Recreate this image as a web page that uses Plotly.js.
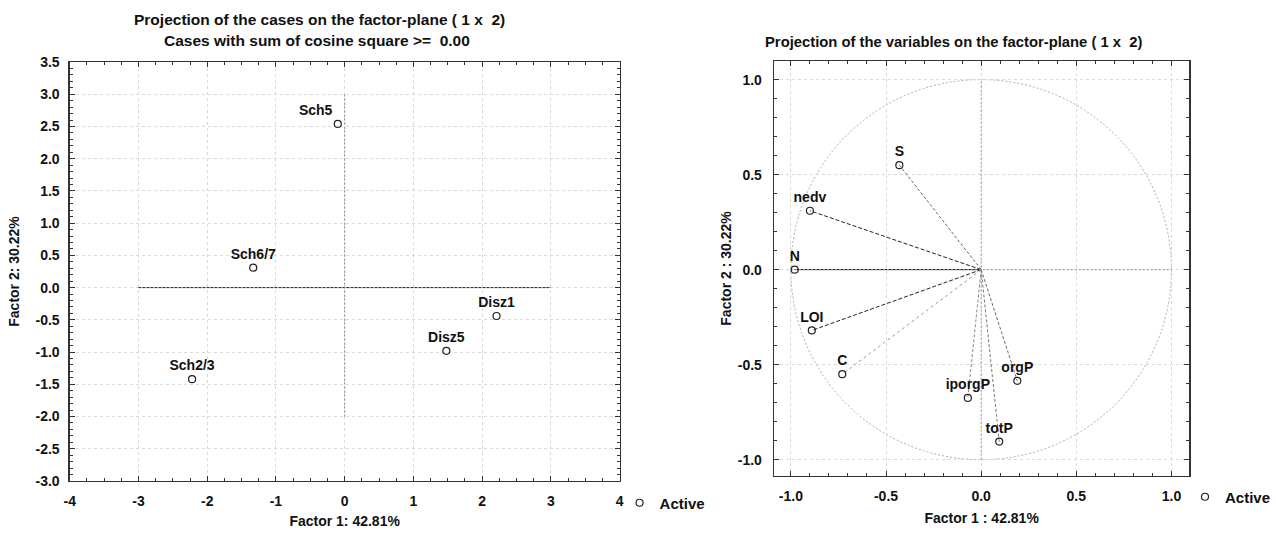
<!DOCTYPE html>
<html>
<head>
<meta charset="utf-8">
<script src="https://cdn.plot.ly/plotly-3.0.1.min.js"></script>
<style>
  html, body { margin: 0; padding: 0; background: #ffffff; }
  #chart { width: 1276px; height: 533px; }
</style>
</head>
<body>
<div id="chart"></div>
<script>
// Cases projected on factor plane (Factor 1 x Factor 2)
const caseNames = ['Sch5', 'Sch6/7', 'Sch2/3', 'Disz1', 'Disz5'];
const caseF1 = [-0.10, -1.33, -2.22, 2.21, 1.48];
const caseF2 = [2.54, 0.31, -1.42, -0.44, -0.98];
const caseLabelPos = ['top left', 'top center', 'top center', 'top center', 'top center'];

// Variables projected on factor plane (loadings)
const varNames = ['S', 'nedv', 'N', 'LOI', 'C', 'iporgP', 'orgP', 'totP'];
const varF1 = [-0.43, -0.90, -0.98, -0.89, -0.73, -0.07, 0.19, 0.095];
const varF2 = [0.55, 0.31, 0.0, -0.32, -0.55, -0.675, -0.585, -0.905];
const varLineColor = ['#666', '#222', '#111', '#222', '#999', '#888', '#666', '#777'];
const varLineDash = ['3px,2px', '4px,2px', 'solid', '4px,2px', '3px,3px', '3px,2px', '3px,2px', '3px,2px'];

// Reference cross on the cases plot
const crossH = [-3, 3];
const crossV = [-2, 3];

// Tick labels
const caseXTicks = [-4, -3, -2, -1, 0, 1, 2, 3, 4];
const caseXText = ['-4', '-3', '-2', '-1', '0', '1', '2', '3', '4'];
const caseYTicks = [3.5, 3, 2.5, 2, 1.5, 1, 0.5, 0, -0.5, -1, -1.5, -2, -2.5, -3];
const caseYText = ['3.5', '3.0', '2.5', '2.0', '1.5', '1.0', '0.5', '0.0', '-0.5', '-1.0', '-1.5', '-2.0', '-2.5', '-3.0'];
const varTicks = [-1, -0.5, 0, 0.5, 1];
const varText = ['-1.0', '-0.5', '0.0', '0.5', '1.0'];

const W = 1276, H = 533;
const px = v => v / W;
const py = v => 1 - v / H;

const FONT = 'Arial, "Liberation Sans", sans-serif';
const boldFont = (size) => ({ family: FONT, size: size, color: '#111', weight: 'bold' });

const traces = [];

// Cases plot
traces.push({
  x: crossH, y: [0, 0], xaxis: 'x', yaxis: 'y', mode: 'lines',
  line: { color: '#222', width: 1, dash: '3px,1px' }, hoverinfo: 'skip', showlegend: false
});
traces.push({
  x: [0, 0], y: crossV, xaxis: 'x', yaxis: 'y', mode: 'lines',
  line: { color: '#888', width: 1, dash: '2px,2px' }, hoverinfo: 'skip', showlegend: false
});
traces.push({
  x: caseF1, y: caseF2, text: caseNames, xaxis: 'x', yaxis: 'y',
  mode: 'markers+text', textposition: caseLabelPos,
  textfont: boldFont(14),
  marker: { symbol: 'circle-open', size: 7, color: '#222', line: { width: 1.2 } },
  name: 'Active', legend: 'legend', showlegend: true
});

// Variables plot: vectors from origin
varNames.forEach((n, i) => {
  traces.push({
    x: [0, varF1[i]], y: [0, varF2[i]], xaxis: 'x2', yaxis: 'y2', mode: 'lines',
    line: { color: varLineColor[i], width: 1, dash: varLineDash[i] },
    hoverinfo: 'skip', showlegend: false
  });
});
traces.push({
  x: [-1, 1], y: [0, 0], xaxis: 'x2', yaxis: 'y2', mode: 'lines',
  line: { color: '#999', width: 1, dash: '2px,2px' }, hoverinfo: 'skip', showlegend: false
});
traces.push({
  x: [0, 0], y: [-1, 1], xaxis: 'x2', yaxis: 'y2', mode: 'lines',
  line: { color: '#999', width: 1, dash: '2px,2px' }, hoverinfo: 'skip', showlegend: false
});
traces.push({
  x: varF1, y: varF2, text: varNames, xaxis: 'x2', yaxis: 'y2',
  mode: 'markers+text', textposition: 'top center',
  textfont: boldFont(14),
  marker: { symbol: 'circle-open', size: 7, color: '#222', line: { width: 1.2 } },
  name: 'Active', legend: 'legend2', showlegend: true
});

const gridStyle = { showgrid: true, gridcolor: '#d9d9d9', griddash: 'dot', gridwidth: 1 };

function axis(extra) {
  return Object.assign({
    showline: true, linecolor: '#333', linewidth: 1.3, mirror: 'ticks',
    ticks: 'inside', ticklen: 5, tickcolor: '#333',
    zeroline: false, automargin: false,
    tickfont: boldFont(14), fixedrange: true
  }, gridStyle, extra);
}

const layout = {
  width: W, height: H,
  margin: { l: 0, r: 0, t: 0, b: 0 },
  paper_bgcolor: '#ffffff', plot_bgcolor: '#ffffff',
  font: { family: FONT, color: '#111' },
  xaxis: axis({
    domain: [px(70), px(622)], range: [-4, 4], anchor: 'y',
    tickmode: 'array', tickvals: caseXTicks, ticktext: caseXText,
    minor: { ticks: 'inside', dtick: 0.25, ticklen: 3, tickcolor: '#333', showgrid: false },
    ticklabelstandoff: 7,
    title: { text: 'Factor 1: 42.81%', font: boldFont(14), standoff: 8 }
  }),
  yaxis: axis({
    domain: [py(481), py(62)], range: [-3, 3.5], anchor: 'x',
    tickmode: 'array', tickvals: caseYTicks, ticktext: caseYText,
    minor: { ticks: 'inside', dtick: 0.1, ticklen: 3, tickcolor: '#333', showgrid: false },
    ticklabelstandoff: 6,
    title: { text: 'Factor 2: 30.22%', font: boldFont(14), standoff: 12 }
  }),
  xaxis2: axis({
    domain: [px(777), px(1194)], range: [-1.089, 1.094], anchor: 'y2',
    tickmode: 'array', tickvals: varTicks, ticktext: varText,
    minor: { ticks: 'inside', dtick: 0.1, ticklen: 3, tickcolor: '#333', showgrid: false },
    ticklabelstandoff: 7,
    title: { text: 'Factor 1 : 42.81%', font: boldFont(14), standoff: 10 }
  }),
  yaxis2: axis({
    domain: [py(476), py(61)], range: [-1.086, 1.098], anchor: 'x2',
    tickmode: 'array', tickvals: varTicks, ticktext: varText,
    minor: { ticks: 'inside', dtick: 0.1, ticklen: 3, tickcolor: '#333', showgrid: false },
    ticklabelstandoff: 8,
    title: { text: 'Factor 2 : 30.22%', font: boldFont(14), standoff: 2 }
  }),
  shapes: [{
    type: 'circle', xref: 'x2', yref: 'y2', x0: -1, x1: 1, y0: -1, y1: 1,
    line: { color: '#aaa', width: 1, dash: '2px,2px' }, layer: 'below'
  }],
  annotations: [
    { text: 'Projection of the cases on the factor-plane ( 1 x  2)', xref: 'paper', yref: 'paper',
      x: px(321), y: py(20), xanchor: 'center', yanchor: 'middle', showarrow: false, font: boldFont(15.5) },
    { text: 'Cases with sum of cosine square >=  0.00', xref: 'paper', yref: 'paper',
      x: px(318), y: py(41), xanchor: 'center', yanchor: 'middle', showarrow: false, font: boldFont(15.5) },
    { text: 'Projection of the variables on the factor-plane ( 1 x  2)', xref: 'paper', yref: 'paper',
      x: px(957), y: py(42), xanchor: 'center', yanchor: 'middle', showarrow: false, font: boldFont(14.8) }
  ],
  legend: {
    x: px(622), y: py(503), xanchor: 'left', yanchor: 'middle',
    bgcolor: 'rgba(0,0,0,0)', font: boldFont(15), itemwidth: 30
  },
  legend2: {
    x: px(1190), y: py(497), xanchor: 'left', yanchor: 'middle',
    bgcolor: 'rgba(0,0,0,0)', font: boldFont(15), itemwidth: 30
  },
  showlegend: true
};

Plotly.newPlot('chart', traces, layout, { staticPlot: true, displayModeBar: false });
</script>
</body>
</html>
